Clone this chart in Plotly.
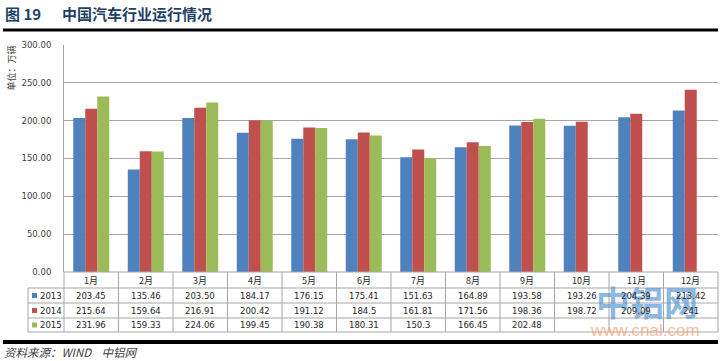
import plotly.graph_objects as go

months = ["1月", "2月", "3月", "4月", "5月", "6月", "7月", "8月", "9月", "10月", "11月", "12月"]
years = ["2013", "2014", "2015"]
v2013 = [203.45, 135.46, 203.50, 184.17, 176.15, 175.41, 151.63, 164.89, 193.58, 193.26, 204.39, 213.42]
v2014 = [215.64, 159.64, 216.91, 200.42, 191.12, 184.5, 161.81, 171.56, 198.36, 198.72, 209.09, 241]
v2015 = [231.96, 159.33, 224.06, 199.45, 190.38, 180.31, 150.3, 166.45, 202.48, None, None, None]
labels2013 = ["203.45", "135.46", "203.50", "184.17", "176.15", "175.41", "151.63", "164.89", "193.58", "193.26", "204.39", "213.42"]
labels2014 = ["215.64", "159.64", "216.91", "200.42", "191.12", "184.5", "161.81", "171.56", "198.36", "198.72", "209.09", "241"]
labels2015 = ["231.96", "159.33", "224.06", "199.45", "190.38", "180.31", "150.3", "166.45", "202.48", "", "", ""]
colors = ["#4F81BD", "#C0504D", "#9BBB59"]
yticks = [0, 50, 100, 150, 200, 250, 300]

W, H = 726, 361
L, R, T, B = 64, 8, 45, 89
pw, ph = W - L - R, H - T - B

def px(x):
    return (x - L) / pw

def py(y):
    return (H - B - y) / ph

fig = go.Figure()
for name, vals, c in zip(years, [v2013, v2014, v2015], colors):
    fig.add_trace(go.Bar(x=months, y=vals, name=name, marker=dict(color=c, line=dict(width=0))))

font_cjk = "Noto Sans CJK SC, DejaVu Sans"
shapes = []
annotations = []

def note(x, y, text, xref="paper", xanchor="center", yanchor="middle", **kw):
    d = dict(x=x, y=y, xref=xref, yref="paper", text=text, showarrow=False,
             xanchor=xanchor, yanchor=yanchor)
    d.update(kw)
    annotations.append(d)

# watermark first (drawn beneath table text)
note(px(647), py(301), "<b>中铝网</b>", opacity=0.7, font=dict(family=font_cjk, size=34, color="#5B9BD5"))
note(px(645), py(330), "www.cnal.com", opacity=0.7, font=dict(family="Liberation Sans", size=17, color="#F4A070"))

row_y = [272, 288, 303, 318, 332]
grey = "#A6A6A6"
for i, y in enumerate(row_y):
    x0 = 0 if i == 0 else px(28)
    shapes.append(dict(type="line", xref="paper", yref="paper", x0=x0, x1=1, y0=py(y), y1=py(y),
                       line=dict(color=grey, width=1)))
for k in range(13):
    xb = k / 12
    shapes.append(dict(type="line", xref="paper", yref="paper", x0=xb, x1=xb, y0=py(272), y1=py(332),
                       line=dict(color=grey, width=1)))
shapes.append(dict(type="line", xref="paper", yref="paper", x0=px(28), x1=px(28), y0=py(288), y1=py(332),
                   line=dict(color=grey, width=1)))

for m in months:
    note(m, py(280.5), m, xref="x", font=dict(family=font_cjk, size=9, color="#262626"))
for r, labs in enumerate([labels2013, labels2014, labels2015]):
    ycp = (row_y[r + 1] + row_y[r + 2]) / 2
    yc = py(ycp)
    for m, t in zip(months, labs):
        if t:
            note(m, yc, t, xref="x", font=dict(family="DejaVu Sans", size=8.5, color="#262626"))
    shapes.append(dict(type="rect", xref="paper", yref="paper", x0=px(32), x1=px(37),
                       y0=py(ycp + 2.5), y1=py(ycp - 2.5), fillcolor=colors[r], line=dict(width=0)))
    note(px(38), yc, years[r], xanchor="left", font=dict(family="DejaVu Sans", size=8.5, color="#262626"))

shapes.append(dict(type="line", xref="paper", yref="paper", x0=px(3), x1=px(718), y0=py(30), y1=py(30),
                   line=dict(color="#000000", width=3)))
shapes.append(dict(type="line", xref="paper", yref="paper", x0=px(3), x1=px(718), y0=py(342), y1=py(342),
                   line=dict(color="#000000", width=4)))
note(px(3), py(13), "<b>图 19</b>", xanchor="left", font=dict(family=font_cjk, size=15, color="#1F3F66"))
note(px(60), py(13), "<b>中国汽车行业运行情况</b>", xanchor="left", font=dict(family=font_cjk, size=15, color="#1F3F66"))
note(px(11), py(44), "单位：万辆", yanchor="top", textangle=-90, font=dict(family=font_cjk, size=9, color="#404040"))
note(px(2), py(352), "<i>资料来源：WIND    中铝网</i>", xanchor="left", font=dict(family=font_cjk, size=11.5, color="#404040"))

fig.update_layout(
    width=W, height=H,
    margin=dict(l=L, r=R, t=T, b=B),
    barmode="group", bargap=0.34, bargroupgap=0,
    plot_bgcolor="white", paper_bgcolor="white",
    showlegend=False,
    shapes=shapes, annotations=annotations,
    xaxis=dict(showticklabels=False, showgrid=False, zeroline=False, showline=False, ticks=""),
    yaxis=dict(range=[0, 300], tickvals=yticks, ticktext=[f"{v:.2f}" for v in yticks],
               showgrid=True, gridcolor="#A6A6A6", gridwidth=1, zeroline=False,
               showline=True, linecolor="#A6A6A6", linewidth=1, ticks="outside", ticklen=0,
               ticklabelstandoff=10,
               tickfont=dict(family="DejaVu Sans", size=8.5, color="#404040")),
)

fig.write_html("out.html", config={"displayModeBar": False},
               post_script="document.body.style.margin='0';document.body.style.overflow='hidden';")
